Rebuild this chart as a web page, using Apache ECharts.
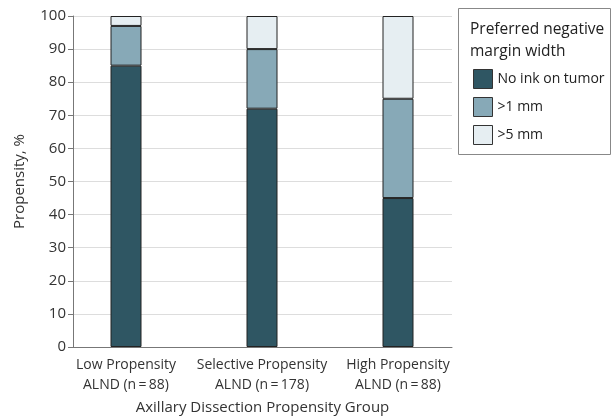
<!DOCTYPE html>
<html>
<head>
<meta charset="utf-8">
<script src="https://cdn.jsdelivr.net/npm/echarts@6/dist/echarts.min.js"></script>
<style>
html, body { margin: 0; padding: 0; background: #fff; }
#chart { width: 612px; height: 420px; }
</style>
</head>
<body>
<div id="chart"></div>
<script>
var groups = ['Low Propensity\nALND (n\u2009=\u200988)', 'Selective Propensity\nALND (n\u2009=\u2009178)', 'High Propensity\nALND (n\u2009=\u200988)']
var noInk = [85, 72, 45]
var over1mm = [12, 18, 30]
var over5mm = [3, 10, 25]

var font = '"Open Sans", sans-serif'

function barSeries(name, vals, color) {
    return {
        name: name,
        type: 'bar',
        stack: 'all',
        barWidth: 31,
        xAxisIndex: 1,
        yAxisIndex: 1,
        data: vals,
        itemStyle: { color: color, borderColor: '#222', borderWidth: 1 }
    }
}

var myChart = echarts.init(document.getElementById('chart'))
var option = {
    animation: false,
    textStyle: { fontFamily: font },
    grid: [
        { left: 73, right: 160, top: 16, bottom: 73 },
        // bars sit in a slightly wider grid so the groups line up like the original
        { left: 58, right: 146, top: 16, bottom: 73 }
    ],
    xAxis: [
        {
            type: 'value',
            gridIndex: 0,
            min: 0,
            max: 1,
            name: 'Axillary Dissection Propensity Group',
            nameLocation: 'middle',
            nameGap: 53,
            nameTextStyle: { fontSize: 15, color: '#333', fontFamily: font },
            axisLine: { show: true, onZero: false, lineStyle: { color: '#777' } },
            axisTick: { show: false },
            axisLabel: { show: false },
            splitLine: { show: false }
        },
        {
            type: 'category',
            gridIndex: 1,
            data: groups,
            axisLine: { show: false },
            axisTick: { show: false },
            axisLabel: { interval: 0, hideOverlap: false, fontSize: 14, lineHeight: 20, color: '#333', margin: 8, fontFamily: font }
        }
    ],
    yAxis: [
        {
            type: 'value',
            gridIndex: 0,
            min: 0,
            max: 100,
            interval: 10,
            name: 'Propensity, %',
            nameLocation: 'middle',
            nameGap: 46,
            nameTextStyle: { fontSize: 15, color: '#333', fontFamily: font },
            axisLine: { show: true, onZero: false, lineStyle: { color: '#777' } },
            axisTick: { show: true, length: 5, lineStyle: { color: '#777' } },
            splitLine: { show: true, lineStyle: { color: '#dddddd' } },
            axisLabel: { fontSize: 15, color: '#333', margin: 7, fontFamily: font }
        },
        {
            type: 'value',
            gridIndex: 1,
            min: 0,
            max: 100,
            show: false
        }
    ],
    legend: {
        orient: 'vertical',
        left: 473,
        top: 69,
        padding: 0,
        itemWidth: 19,
        itemHeight: 19,
        itemGap: 8,
        icon: 'rect',
        textStyle: { fontSize: 14, color: '#222', fontFamily: font },
        itemStyle: { borderColor: '#333', borderWidth: 1 },
        data: ['No ink on tumor', '>1 mm', '>5 mm']
    },
    graphic: [
        {
            type: 'rect',
            shape: { x: 458.5, y: 8.5, width: 152, height: 146 },
            style: { fill: 'none', stroke: '#888', lineWidth: 1 }
        },
        {
            type: 'text',
            left: 470,
            top: 19,
            style: { text: 'Preferred negative\nmargin width', lineHeight: 22, fill: '#222', font: '15.5px ' + font }
        }
    ],
    series: [
        barSeries('No ink on tumor', noInk, '#2f5663'),
        barSeries('>1 mm', over1mm, '#87a9b7'),
        barSeries('>5 mm', over5mm, '#e6eef2')
    ]
}
myChart.setOption(option)
</script>
</body>
</html>
